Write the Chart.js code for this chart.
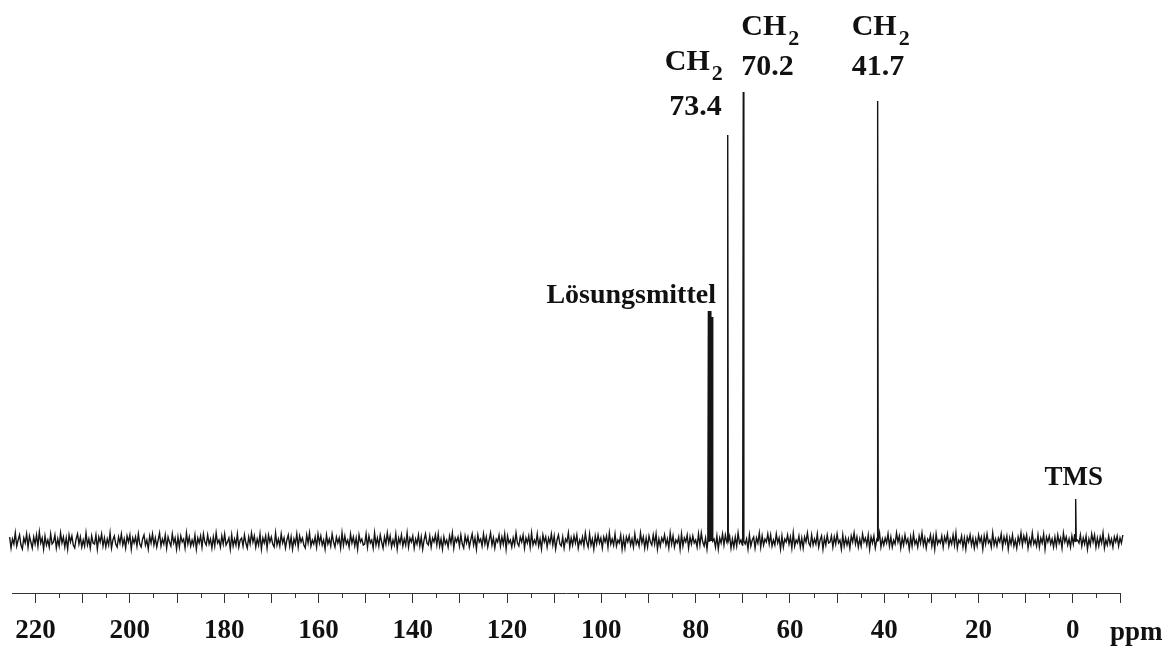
<!DOCTYPE html>
<html>
<head>
<meta charset="utf-8">
<script src="https://cdn.jsdelivr.net/npm/chart.js@4.4.0/dist/chart.umd.min.js"></script>
<style>
    html, body { margin: 0; padding: 0; background: #fff; }
    #wrap { width: 1169px; height: 646px; }
</style>
</head>
<body>
<div id="wrap"><canvas id="nmrChart"></canvas></div>
<script>
// 13C spectrum, chemical shift in ppm (axis runs from 225 down to -10)
const noiseStart = 225.5;   // ppm of first baseline point
const noiseStep = 0.3;      // ppm between baseline points

// baseline noise (a.u.)
const noise = [
    4,-7,2,-3,8,-5,1,6,-4,-8,3,-2,7,-6,5,-1,-7,4,-3,6,
    -5,9,-2,3,-8,5,-4,1,-6,7,-3,-1,6,-7,2,-5,8,-2,4,-6,
    3,-8,6,-1,5,-4,-7,2,7,-3,4,-6,1,-5,8,-4,2,-7,5,-2,
    -3,6,-8,4,-1,7,-5,3,-6,2,-4,8,-7,1,5,-3,-6,4,-2,7,
    -4,2,-7,5,-1,6,-8,3,-2,4,-5,7,-3,-6,2,6,-4,1,-8,5,
    -2,7,-4,3,-6,1,8,-5,2,-3,6,-7,4,-1,-5,7,-2,3,-8,4,
    -6,5,-1,2,-7,8,-3,4,-5,1,-4,6,-8,3,-2,5,-6,7,-1,-4,
    6,-3,2,-7,4,-5,8,-2,1,-6,5,-3,7,-4,-1,3,-8,6,-5,2,
    -4,7,-6,1,3,-5,6,-2,-7,4,-3,8,-1,5,-6,2,-4,7,-8,3,
    -2,5,-7,6,-1,4,-3,-6,8,-4,2,-5,7,-2,3,-7,1,6,-5,4,
    -8,2,-3,7,-6,5,-1,3,-4,-7,6,-2,8,-5,1,-3,4,-6,7,-2,
    5,-4,1,-8,6,-3,2,-5,7,-1,-6,4,-2,3,-7,8,-4,5,-3,1,
    -6,7,-2,4,-5,3,-8,6,-1,2,-4,-3,7,-6,5,-2,1,-7,8,-4,
    3,-5,6,-1,-7,4,-3,8,-2,5,-6,1,-4,7,-8,3,-2,6,-5,2,
    -4,8,-6,3,-1,5,-7,2,-3,6,-5,4,-8,1,7,-2,-4,5,-6,3,
    -1,6,-4,7,-5,2,-8,4,-3,1,-6,5,-2,8,-7,3,-1,4,-5,6,
    -3,-7,5,-2,4,-6,1,7,-4,3,-8,6,-1,2,-5,7,-3,4,-6,1,
    8,-4,3,-7,2,-1,6,-5,4,-3,7,-8,5,-2,1,-6,3,-4,8,-2,
    -5,4,-1,6,-7,3,-2,5,-6,8,-4,1,-3,7,-5,2,-8,6,-1,4,
    -6,3,-2,7,-4,5,-8,1,6,-3,-5,4,-7,2,-1,8,-6,3,-4,5,
    -2,6,-7,1,-3,4,-5,8,-1,-6,7,-4,2,-8,5,-3,6,-2,3,-7,
    4,-1,5,-6,8,-3,2,-4,7,-5,1,-2,6,-8,3,-7,4,-1,5,-4,
    2,-6,7,-3,1,-5,8,-2,4,-7,3,-6,5,-1,-4,6,-3,7,-8,2,
    -5,3,-1,6,-4,2,-7,8,-3,5,-6,1,-2,4,-8,7,-5,3,-1,6,
    -7,4,-3,5,-2,1,-6,7,-4,8,-1,-5,3,-8,6,-2,4,-3,2,-6,
    5,-8,3,-2,7,-4,6,-1,-3,5,-7,2,-6,4,-5,8,-2,1,-4,7,
    -3,2,-8,6,-5,1,4,-7,3,-2,8,-6,5,-4,2,-1,7,-3,6,-5,
    1,-4,7,-2,3,-8,5,-6,2,-1,6,-3,4,-7,8,-5,1,-2,5,-6,
    3,-7,4,-1,8,-2,-5,6,-4,2,-3,7,-6,1,5,-8,3,-4,6,-2,
    -1,5,-6,4,-3,7,-2,1,-8,6,-5,3,-4,2,-7,5,-1,8,-3,4,
    -6,2,-5,7,-1,3,-4,6,-8,4,-2,5,-7,1,-3,8,-6,2,-4,3,
    -2,7,-5,4,-6,1,-3,8,-1,5,-7,3,-4,6,-2,2,-8,4,-5,7,
    -3,1,-6,5,-2,8,-4,3,-7,2,-1,6,-5,4,-8,7,-3,1,-2,5,
    -6,4,-1,7,-5,2,-3,6,-4,8,-7,1,-2,5,-6,3,-8,4,-1,6,
    -4,3,-7,2,-5,6,-1,4,-8,5,-3,7,-2,1,-6,8,-4,2,-5,3,
    -1,7,-6,4,-2,5,-8,3,-3,6,-5,1,-7,4,-2,8,-4,5,-1,6,
    -7,2,-4,8,-3,1,-5,6,-6,3,-2,7,-8,4,-1,5,-3,2,-6,4,
    -5,6,-2,3,-7,8,-1,4,-4,2,-6,5,-3,7,-8,1,-2,6,-5,3,
    -3,5,-8,2,-4,7,-1,6,-6,3,-5,4,-2,8,-7,1,-4,5,-3,2,
    -6,4,-1,5,-5,3,-2,6
];

// signals: solvent triplet, CH2 x3, TMS
const peakPpm    = [77.3, 76.9, 76.5, 73.2, 69.9, 41.4, -0.6];
const peakHeight = [230, 230, 224, 406, 449, 440, 42];

// axis ticks
const majorTicks = [-10, 0, 10, 20, 30, 40, 50, 60, 70, 80, 90, 100, 110, 120,
                    130, 140, 150, 160, 170, 180, 190, 200, 210, 220];
const minorTicks = [-5, 5, 15, 25, 35, 45, 55, 65, 75, 85, 95, 105, 115, 125,
                    135, 145, 155, 165, 175, 185, 195, 205, 215];
const labelTicks = [0, 20, 40, 60, 80, 100, 120, 140, 160, 180, 200, 220];

////////////////////////////////////////////////////////////////////////////////

// merge baseline and peaks into one trace
const points = [];
noise.forEach((v, i) => {
    const p = noiseStart - i * noiseStep;
    const tooClose = peakPpm.some(pk => Math.abs(pk - p) < 0.15);
    if (!tooClose) points.push({ x: p, y: v });
});
peakPpm.forEach((p, i) => {
    points.push({ x: p + 0.12, y: 0 });
    points.push({ x: p, y: peakHeight[i] });
    points.push({ x: p - 0.12, y: 0 });
});
points.sort((a, b) => b.x - a.x);

const serif = '"Liberation Serif", "Times New Roman", serif';
const ink = '#111';

// short ticks every 5 ppm, 'ppm' unit label
const minorTickPlugin = {
    id: 'minorTicks',
    afterDraw(chart) {
        const { ctx, chartArea } = chart;
        const x = chart.scales.x;
        ctx.save();
        ctx.strokeStyle = '#333';
        ctx.lineWidth = 1;
        minorTicks.forEach(v => {
            const px = Math.round(x.getPixelForValue(v)) + 0.5;
            ctx.beginPath();
            ctx.moveTo(px, chartArea.bottom);
            ctx.lineTo(px, chartArea.bottom + 5);
            ctx.stroke();
        });
        ctx.fillStyle = ink;
        ctx.font = 'bold 27px ' + serif;
        ctx.textAlign = 'left';
        ctx.textBaseline = 'alphabetic';
        ctx.fillText('ppm', chartArea.right - 10, 640);
        ctx.restore();
    }
};

// peak assignments
const peakLabelPlugin = {
    id: 'peakLabels',
    afterDatasetsDraw(chart) {
        const { ctx } = chart;
        const x = chart.scales.x;
        const px = v => x.getPixelForValue(v);

        ctx.save();
        ctx.fillStyle = ink;
        ctx.textBaseline = 'alphabetic';

        function ch2(left, base) {
            ctx.textAlign = 'left';
            ctx.font = 'bold 30px ' + serif;
            ctx.fillText('CH', left, base);
            const w = ctx.measureText('CH').width;
            ctx.font = 'bold 22px ' + serif;
            ctx.fillText('2', left + w + 2, base + 10);
        }
        function txt(s, xx, base, align, size) {
            ctx.textAlign = align;
            ctx.font = 'bold ' + size + 'px ' + serif;
            ctx.fillText(s, xx, base);
        }

        // 73.4
        ch2(px(peakPpm[3]) - 63, 70);
        txt('73.4', px(peakPpm[3]) - 6, 115, 'right', 30);
        // 70.2
        ch2(px(peakPpm[4]) - 2, 35);
        txt('70.2', px(peakPpm[4]) - 2, 75, 'left', 30);
        // 41.7
        ch2(px(peakPpm[5]) - 26, 35);
        txt('41.7', px(peakPpm[5]) - 26, 75, 'left', 30);
        // solvent
        txt('Lösungsmittel', px(peakPpm[0]) - 162, 303, 'left', 28);
        // TMS
        txt('TMS', px(peakPpm[6]) - 2, 485, 'center', 27);

        ctx.restore();
    }
};

const ctx = document.getElementById('nmrChart').getContext('2d');

const nmrChart = new Chart(ctx, {
    type: 'line',
    data: {
        datasets: [{
            data: points,
            borderColor: '#141414',
            borderWidth: 1.4,
            pointRadius: 0,
            tension: 0,
            fill: false,
            clip: false
        }]
    },
    options: {
        responsive: true,
        maintainAspectRatio: false,
        animation: false,
        layout: {
            padding: { left: 12, right: 49, top: 0, bottom: -14 }
        },
        plugins: {
            legend: { display: false },
            tooltip: { enabled: false }
        },
        scales: {
            x: {
                type: 'linear',
                reverse: true,
                min: -10,
                max: 225,
                afterBuildTicks: scale => {
                    scale.ticks = majorTicks.map(v => ({ value: v }));
                },
                ticks: {
                    autoSkip: false,
                    maxRotation: 0,
                    padding: 15,
                    color: ink,
                    font: { family: serif, size: 27, weight: 'bold', lineHeight: 1 },
                    callback: value => labelTicks.includes(value) ? String(value) : ''
                },
                grid: {
                    drawOnChartArea: false,
                    drawTicks: true,
                    tickLength: 10,
                    color: '#333'
                },
                border: { display: true, color: '#333', width: 1 }
            },
            y: {
                display: false,
                min: -52,
                max: 541
            }
        }
    },
    plugins: [minorTickPlugin, peakLabelPlugin]
});
</script>
</body>
</html>
